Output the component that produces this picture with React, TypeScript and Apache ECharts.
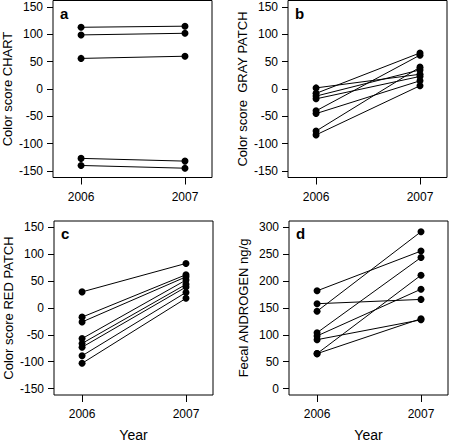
import React, { useEffect, useRef } from "react";
import * as echarts from "echarts";

const years = [2006, 2007];
const colorTicks = [-150, -100, -50, 0, 50, 100, 150];
const androgenTicks = [0, 50, 100, 150, 200, 250, 300];

// Panel a: Color score CHART
const chart2006 = [113, 99, 56, -127, -140];
const chart2007 = [115, 102, 60, -132, -145];
// Panel b: Color score GRAY PATCH
const gray2006 = [2, -8, -13, -18, -40, -45, -77, -84];
const gray2007 = [27, 66, 35, 23, 62, 15, 40, 6];
// Panel c: Color score RED PATCH
const red2006 = [30, -17, -26, -57, -66, -73, -89, -103];
const red2007 = [83, 62, 58, 52, 44, 39, 29, 18];
// Panel d: Fecal ANDROGEN ng/g
const andro2006 = [182, 158, 144, 104, 98, 91, 65, 65];
const andro2007 = [256, 166, 292, 244, 185, 128, 211, 130];

const panels = [
  { letter: "a", name: "Color score CHART", v06: chart2006, v07: chart2007, ticks: colorTicks, min: -162, max: 162, left: 53, top: 0.5, xName: "" },
  { letter: "b", name: "Color score  GRAY PATCH", v06: gray2006, v07: gray2007, ticks: colorTicks, min: -162, max: 162, left: 288, top: 0.5, xName: "" },
  { letter: "c", name: "Color score RED PATCH", v06: red2006, v07: red2007, ticks: colorTicks, min: -162, max: 162, left: 54, top: 221, xName: "Year" },
  { letter: "d", name: "Fecal ANDROGEN ng/g", v06: andro2006, v07: andro2007, ticks: androgenTicks, min: -12, max: 312, left: 289, top: 221, xName: "Year" },
];

const FONT = "Liberation Sans, Arial, Helvetica, sans-serif";

export default function App() {
  const ref = useRef<HTMLDivElement>(null);
  useEffect(() => {
    if (!ref.current) return;
    const chart = echarts.init(ref.current, undefined, { renderer: "svg" });
    const grid: any[] = [];
    const xAxis: any[] = [];
    const yAxis: any[] = [];
    const series: any[] = [];
    const graphic: any[] = [];
    panels.forEach((p, gi) => {
      grid.push({
        left: p.left,
        top: p.top,
        width: 159,
        height: 177,
        show: true,
        borderColor: "#000",
        borderWidth: 1,
        backgroundColor: "transparent",
      });
      xAxis.push({
        type: "value",
        gridIndex: gi,
        min: 2005.73,
        max: 2007.26,
        name: p.xName,
        nameLocation: "middle",
        nameGap: 33,
        nameTextStyle: { fontFamily: FONT, fontSize: 14, color: "#000" },
        axisLine: { show: false, onZero: false },
        axisTick: { show: true, inside: false, length: 7, lineStyle: { color: "#000" }, customValues: years },
        axisLabel: { show: true, color: "#000", fontFamily: FONT, fontSize: 12, margin: 13, customValues: years, formatter: (v: number) => String(v) },
        splitLine: { show: false },
      });
      yAxis.push({
        type: "value",
        gridIndex: gi,
        min: p.min,
        max: p.max,
        name: p.name,
        nameLocation: "middle",
        nameRotate: 90,
        nameGap: 39,
        nameTextStyle: { fontFamily: FONT, fontSize: 13, color: "#000" },
        axisLine: { show: false, onZero: false },
        axisTick: { show: true, inside: false, length: 6, lineStyle: { color: "#000" }, customValues: p.ticks },
        axisLabel: { show: true, color: "#000", fontFamily: FONT, fontSize: 12, margin: 10, customValues: p.ticks },
        splitLine: { show: false },
      });
      p.v06.forEach((v, i) => {
        series.push({
          type: "line",
          xAxisIndex: gi,
          yAxisIndex: gi,
          data: [
            [years[0], v],
            [years[1], p.v07[i]],
          ],
          symbol: "circle",
          symbolSize: 7,
          showSymbol: true,
          itemStyle: { color: "#000" },
          lineStyle: { color: "#000", width: 1 },
          silent: true,
        });
      });
      graphic.push({
        type: "text",
        left: p.left + 7,
        top: p.top + 5,
        style: { text: p.letter, font: `bold 15px ${FONT}`, fill: "#000" },
      });
    });
    chart.setOption({
      animation: false,
      backgroundColor: "#fff",
      grid,
      xAxis,
      yAxis,
      series,
      graphic,
    });
    return () => chart.dispose();
  }, []);
  return <div ref={ref} style={{ position: "fixed", left: 0, top: 0, width: 450, height: 443 }} />;
}
